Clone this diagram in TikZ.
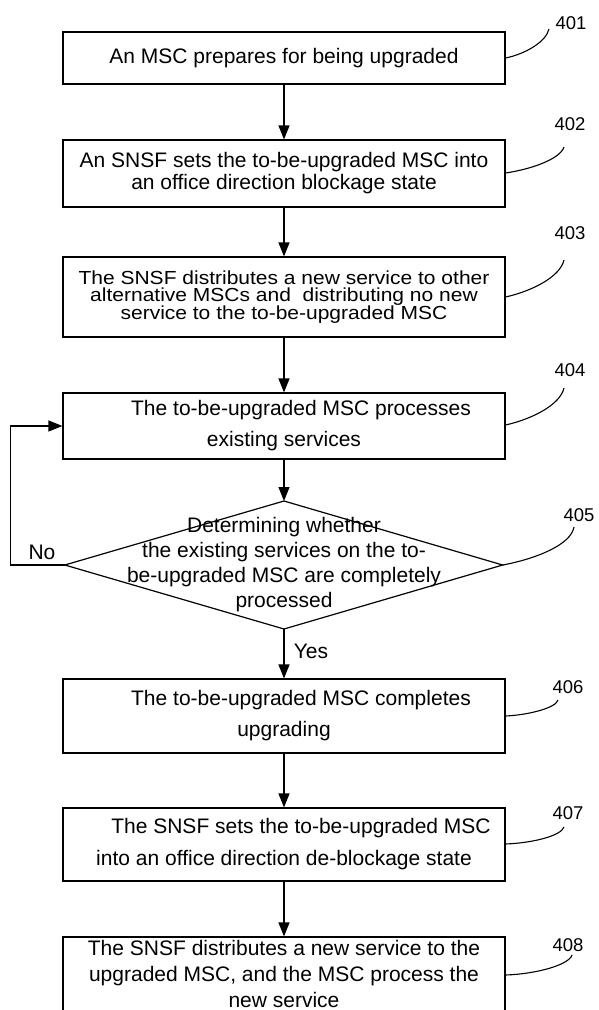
\documentclass[tikz,border=0pt]{standalone}
\usepackage{fontspec}
\setmainfont{Liberation Sans}
\usetikzlibrary{arrows.meta}
\begin{document}
\begin{tikzpicture}[x=1pt,y=-1pt,
 box/.style={draw, line width=1.2pt, minimum width=442pt, inner sep=0pt},
 txt/.style={align=center, inner sep=0pt},
 arr/.style={line width=1.2pt, -{Triangle[length=14pt,width=11pt]}},
 lead/.style={line width=1.1pt},
 lab/.style={font=\fontsize{18.5}{20}\selectfont, inner sep=0pt}]
\useasboundingbox (0,0) rectangle (598,1010);
% boxes
\node[box, minimum height=52pt] (b1) at (284,58) {};
\node[box, minimum height=67pt] (b2) at (284,173.5) {};
\node[box, minimum height=80pt] (b3) at (284,297) {};
\node[box, minimum height=66pt] (b4) at (284,426) {};
\node[box, minimum height=74pt] (b6) at (284,716) {};
\node[box, minimum height=73pt] (b7) at (284,844.5) {};
\node[box, minimum height=76pt] (b8) at (284,975) {};
% texts
\node[txt, font=\fontsize{21}{22}\selectfont] (t1) at (b1.center) {An MSC prepares for being upgraded};
\node[txt, font=\fontsize{21}{22}\selectfont] (t2) at (b2.center) {An SNSF sets the to-be-upgraded MSC into\\an office direction blockage state};
\node[txt, yscale=0.9, transform shape, font=\fontsize{21}{19.7}\selectfont] (t3) at (b3.center) {The SNSF distributes a new service to other\\alternative MSCs and\ \ distributing no new\\service to the to-be-upgraded MSC};
\node[txt, font=\fontsize{21}{31}\selectfont] (t4) at (b4.center) {\hspace*{34pt}The to-be-upgraded MSC processes\\existing services};
\node[txt, font=\fontsize{21}{31}\selectfont] (t6) at (b6.center) {\hspace*{34pt}The to-be-upgraded MSC completes\\upgrading};
\node[txt, font=\fontsize{21}{32}\selectfont] (t7) at (b7.center) {\hspace*{34pt}The SNSF sets the to-be-upgraded MSC\\into an office direction de-blockage state};
\node[txt, font=\fontsize{21}{26}\selectfont] (t8) at (284,974) {The SNSF distributes a new service to the\\upgraded MSC, and the MSC process the\\new service};
% decision
\coordinate (dT) at (284,501);
\coordinate (dR) at (502.7,565);
\coordinate (dB) at (284,629);
\coordinate (dL) at (64.8,565);
\draw[line width=1.2pt] (dT) -- (dR) -- (dB) -- (dL) -- cycle;
\node[txt, font=\fontsize{21}{25}\selectfont] (d) at (284,565) {Determining whether\\the existing services on the to-\\be-upgraded MSC are completely\\processed};
% arrows
\draw[arr] (b1) -- (b2);
\draw[arr] (b2) -- (b3);
\draw[arr] (b3) -- (b4);
\draw[arr] (b4) -- (dT);
\draw[arr] (dB) -- (b6);
\draw[arr] (b6) -- (b7);
\draw[arr] (b7) -- (b8);
\coordinate (lp) at (10.3,565);
\draw[arr] (dL) -- (lp) |- (b4.west);
\node[txt, font=\fontsize{21}{22}\selectfont] (no) at (42,552) {No};
\node[txt, font=\fontsize{21}{22}\selectfont] (yes) at (311,651) {Yes};
% labels
\node[lab] (l1) at (571,23) {401};
\node[lab] (l2) at (570,124) {402};
\node[lab] (l3) at (570,233) {403};
\node[lab] (l4) at (570,370) {404};
\node[lab] (l5) at (579,515) {405};
\node[lab] (l6) at (568,687) {406};
\node[lab] (l7) at (568,813) {407};
\node[lab] (l8) at (568,945) {408};
\coordinate (e1) at (549,29);
\coordinate (e2) at (564,147);
\coordinate (e3) at (564,260);
\coordinate (e4) at (564,388);
\coordinate (e5) at (574,527);
\coordinate (e6) at (558,700);
\coordinate (e7) at (564,827);
\coordinate (e8) at (572,955);
\draw[lead] (b1.east |- 0,58) .. controls (525,54) and (546,42) .. (e1);
\draw[lead] (b2.east |- 0,173) .. controls (532,169) and (560,159) .. (e2);
\draw[lead] (b3.east |- 0,297) .. controls (532,291) and (560,277) .. (e3);
\draw[lead] (b4.east |- 0,425) .. controls (532,419) and (560,405) .. (e4);
\draw[lead] (dR) .. controls (535,559) and (571,545) .. (e5);
\draw[lead] (b6.east |- 0,716) .. controls (528,715) and (556,708) .. (e6);
\draw[lead] (b7.east |- 0,844) .. controls (532,843) and (561,836) .. (e7);
\draw[lead] (b8.east |- 0,975) .. controls (536,974) and (569,965) .. (e8);
\end{tikzpicture}
\end{document}
